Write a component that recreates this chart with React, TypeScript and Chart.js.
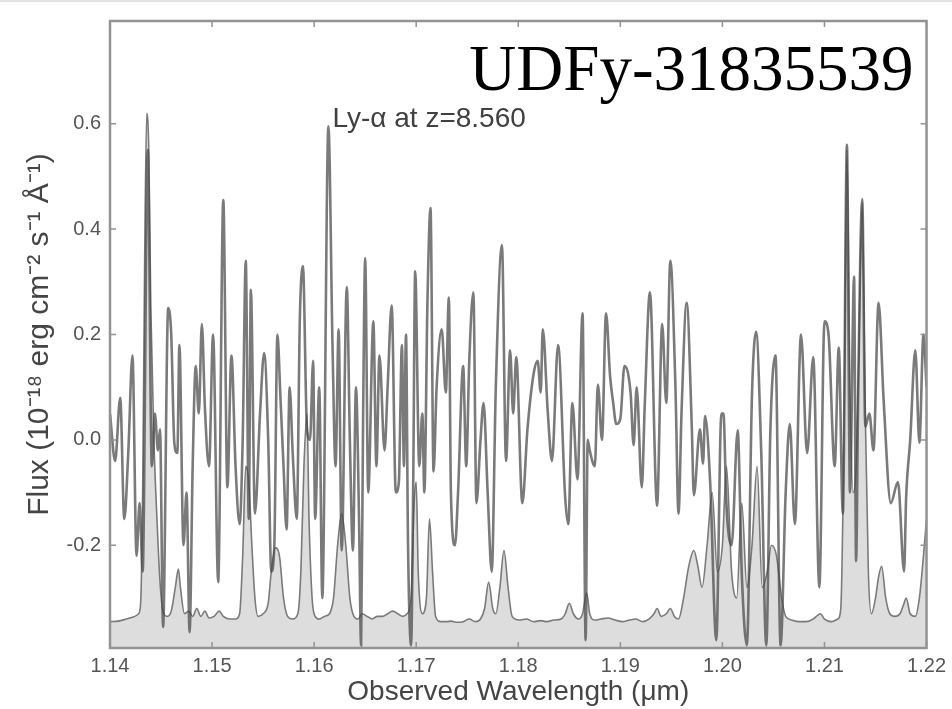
import { useEffect, useRef } from 'react';
import { Chart, registerables } from 'chart.js';

Chart.register(...registerables);

// Object spectrum (observed wavelength in µm, flux in 1e-18 erg/cm2/s/Å)
const objWavelength = [
  1.1400, 1.1405, 1.1410, 1.1414, 1.1418, 1.1422, 1.1426, 1.1429, 1.1432, 1.1437,
  1.1441, 1.1444, 1.1447, 1.1449, 1.1452, 1.1457, 1.1460, 1.1463, 1.1466, 1.1468,
  1.1472, 1.1475, 1.1478, 1.1481, 1.1484, 1.1487, 1.1490, 1.1493, 1.1497, 1.1501,
  1.1506, 1.1511, 1.1515, 1.1519, 1.1523, 1.1527, 1.1530, 1.1533, 1.1536, 1.1538,
  1.1542, 1.1547, 1.1551, 1.1555, 1.1558, 1.1561, 1.1564, 1.1567, 1.1570, 1.1573,
  1.1576, 1.1579, 1.1583, 1.1586, 1.1589, 1.1593, 1.1596, 1.1599, 1.1601, 1.1605,
  1.1608, 1.1614, 1.1618, 1.1621, 1.1624, 1.1627, 1.1632, 1.1635, 1.1638, 1.1641,
  1.1644, 1.1646, 1.1648, 1.1650, 1.1653, 1.1658, 1.1661, 1.1664, 1.1669, 1.1672,
  1.1676, 1.1680, 1.1683, 1.1686, 1.1688, 1.1690, 1.1692, 1.1695, 1.1697, 1.1699,
  1.1703, 1.1706, 1.1708, 1.1711, 1.1714, 1.1717, 1.1720, 1.1725, 1.1729, 1.1732,
  1.1734, 1.1738, 1.1741, 1.1746, 1.1749, 1.1752, 1.1756, 1.1759, 1.1763, 1.1766,
  1.1770, 1.1774, 1.1778, 1.1784, 1.1788, 1.1792, 1.1795, 1.1798, 1.1804, 1.1809,
  1.1815, 1.1819, 1.1822, 1.1824, 1.1829, 1.1833, 1.1839, 1.1846, 1.1849, 1.1853,
  1.1858, 1.1863, 1.1866, 1.1868, 1.1870, 1.1875, 1.1878, 1.1882, 1.1886, 1.1890,
  1.1893, 1.1896, 1.1900, 1.1904, 1.1910, 1.1913, 1.1916, 1.1921, 1.1924, 1.1929,
  1.1936, 1.1941, 1.1945, 1.1949, 1.1954, 1.1957, 1.1960, 1.1965, 1.1970, 1.1972,
  1.1978, 1.1981, 1.1983, 1.1988, 1.1994, 1.1999, 1.2001, 1.2004, 1.2009, 1.2015,
  1.2019, 1.2024, 1.2029, 1.2033, 1.2038, 1.2043, 1.2047, 1.2052, 1.2057, 1.2062,
  1.2066, 1.2071, 1.2077, 1.2083, 1.2089, 1.2095, 1.2100, 1.2104, 1.2110, 1.2114,
  1.2118, 1.2122, 1.2125, 1.2129, 1.2131, 1.2133, 1.2137, 1.2140, 1.2144, 1.2148,
  1.2153, 1.2158, 1.2165, 1.2172, 1.2178, 1.2180, 1.2184, 1.2189, 1.2193, 1.2197,
  1.2200,
];
const objFlux = [
  0.05, -0.04, 0.08, -0.15, -0.02, 0.16, -0.22, -0.12, -0.25, 0.55,
  -0.05, 0.05, -0.02, 0.02, -0.355, 0.25, 0.2, -0.005, -0.025, 0.18,
  -0.2, -0.1, -0.365, -0.05, 0.14, 0.05, 0.22, 0.06, -0.05, 0.2,
  -0.27, 0.455, -0.09, 0.16, -0.05, -0.16, 0.0, 0.34, -0.15, 0.285,
  -0.14, 0.05, 0.165, 0.0, -0.25, -0.2, 0.2, 0.08, -0.05, -0.17,
  0.1, -0.025, -0.15, 0.23, 0.33, 0.02, 0.0, 0.15, -0.15, 0.1,
  -0.3, 0.595, 0.18, -0.05, 0.21, -0.21, 0.29, 0.0, -0.21, 0.1,
  -0.15, -0.39, 0.05, 0.345, -0.1, 0.225, -0.05, 0.16, -0.02, 0.1,
  0.255, -0.1, -0.08, 0.18, -0.05, 0.2, -0.2, -0.39, -0.1, 0.32,
  -0.05, 0.05, -0.1, 0.26, 0.44, -0.06, 0.1, 0.21, 0.09, 0.27,
  -0.1, -0.2, -0.1, 0.14, -0.05, 0.15, 0.28, -0.12, 0.0, 0.07,
  -0.1, -0.25, 0.1, 0.37, -0.04, 0.17, 0.05, 0.157, -0.12, 0.02,
  0.125, 0.15, 0.09, 0.21, 0.05, -0.04, 0.18, -0.11, -0.16, 0.07,
  -0.075, 0.24, -0.38, 0.0, -0.02, -0.05, 0.105, 0.0, 0.24, 0.12,
  0.07, 0.03, 0.04, 0.14, 0.09, -0.01, 0.1, -0.09, 0.07, 0.28,
  -0.125, 0.22, 0.07, 0.34, 0.1, -0.14, 0.055, 0.26, 0.025, -0.105,
  0.02, -0.045, 0.045, -0.08, -0.38, 0.05, 0.05, -0.125, -0.2, 0.018,
  -0.255, -0.39, 0.087, 0.205, -0.02, -0.39, 0.018, 0.16, -0.39, -0.1,
  0.03, -0.16, 0.2, -0.025, 0.157, -0.28, 0.225, 0.2, -0.05, 0.175,
  -0.14, 0.56, -0.1, 0.31, -0.23, 0.087, 0.457, 0.025, 0.05, -0.02,
  0.26, 0.074, -0.12, -0.08, -0.25, -0.11, 0.0, 0.17, -0.005, 0.2,
  0.1,
];

// Sky spectrum (scaled, filled grey)
const skyWavelength = [
  1.1400, 1.1408, 1.1416, 1.1423, 1.1428, 1.1430, 1.1432, 1.1434, 1.1436, 1.1438,
  1.1440, 1.1443, 1.1446, 1.1449, 1.1452, 1.1456, 1.1460, 1.1464, 1.1467, 1.1469,
  1.1473, 1.1477, 1.1481, 1.1485, 1.1489, 1.1493, 1.1497, 1.1502, 1.1507, 1.1511,
  1.1517, 1.1523, 1.1527, 1.1530, 1.1533, 1.1536, 1.1539, 1.1542, 1.1545, 1.1550,
  1.1555, 1.1558, 1.1562, 1.1566, 1.1570, 1.1574, 1.1579, 1.1584, 1.1587, 1.1590,
  1.1593, 1.1595, 1.1598, 1.1601, 1.1605, 1.1610, 1.1615, 1.1619, 1.1623, 1.1627,
  1.1631, 1.1635, 1.1639, 1.1643, 1.1647, 1.1652, 1.1657, 1.1662, 1.1667, 1.1672,
  1.1677, 1.1682, 1.1687, 1.1691, 1.1695, 1.1698, 1.1700, 1.1702, 1.1706, 1.1710,
  1.1713, 1.1716, 1.1719, 1.1724, 1.1730, 1.1734, 1.1740, 1.1746, 1.1752, 1.1758,
  1.1763, 1.1767, 1.1771, 1.1775, 1.1778, 1.1782, 1.1786, 1.1790, 1.1794, 1.1801,
  1.1808, 1.1815, 1.1822, 1.1828, 1.1835, 1.1842, 1.1846, 1.1850, 1.1854, 1.1859,
  1.1863, 1.1867, 1.1870, 1.1875, 1.1881, 1.1888, 1.1895, 1.1902, 1.1909, 1.1915,
  1.1922, 1.1928, 1.1933, 1.1936, 1.1940, 1.1945, 1.1949, 1.1953, 1.1957, 1.1962,
  1.1967, 1.1972, 1.1976, 1.1980, 1.1985, 1.1990, 1.1995, 1.2000, 1.2004, 1.2009,
  1.2014, 1.2019, 1.2024, 1.2029, 1.2034, 1.2039, 1.2044, 1.2048, 1.2053, 1.2058,
  1.2062, 1.2068, 1.2075, 1.2082, 1.2089, 1.2092, 1.2096, 1.2100, 1.2107, 1.2113,
  1.2116, 1.2119, 1.2122, 1.2125, 1.2128, 1.2131, 1.2133, 1.2137, 1.2140, 1.2143,
  1.2146, 1.2150, 1.2153, 1.2156, 1.2160, 1.2164, 1.2169, 1.2174, 1.2178, 1.2180,
  1.2184, 1.2189, 1.2193, 1.2197, 1.2200,
];
const skyFlux = [
  -0.345, -0.344, -0.34, -0.336, -0.33, -0.31, -0.1, 0.35, 0.62, 0.55,
  0.25, 0.0, -0.15, -0.27, -0.325, -0.335, -0.325, -0.28, -0.245, -0.28,
  -0.33, -0.325, -0.335, -0.32, -0.335, -0.325, -0.338, -0.335, -0.325, -0.335,
  -0.34, -0.34, -0.33, -0.22, -0.05, -0.08, -0.2, -0.3, -0.335, -0.33,
  -0.31, -0.25, -0.205, -0.22, -0.3, -0.335, -0.34, -0.33, -0.25, -0.05,
  0.05, -0.15, -0.3, -0.335, -0.34, -0.335, -0.33, -0.3, -0.2, -0.14,
  -0.2, -0.3, -0.335, -0.34, -0.33, -0.335, -0.34, -0.335, -0.335, -0.33,
  -0.325, -0.33, -0.335, -0.33, -0.3, -0.12, -0.08, -0.25, -0.33, -0.3,
  -0.15, -0.25, -0.335, -0.345, -0.345, -0.344, -0.346, -0.345, -0.34, -0.345,
  -0.34, -0.32, -0.27, -0.32, -0.33, -0.28, -0.21, -0.28, -0.335, -0.342,
  -0.34, -0.345, -0.343, -0.345, -0.342, -0.34, -0.33, -0.31, -0.33, -0.34,
  -0.33, -0.29, -0.33, -0.342, -0.34, -0.338, -0.342, -0.345, -0.342, -0.34,
  -0.345, -0.34, -0.33, -0.32, -0.335, -0.33, -0.32, -0.335, -0.34, -0.3,
  -0.24, -0.21, -0.24, -0.28, -0.2, -0.1, -0.25, -0.2, -0.05, -0.25,
  -0.3, -0.12, -0.28, -0.2, -0.05, -0.28, -0.25, -0.2, -0.22, -0.3,
  -0.335, -0.342, -0.345, -0.345, -0.34, -0.335, -0.33, -0.34, -0.345, -0.34,
  -0.32, 0.0, 0.55, 0.1, -0.1, -0.05, 0.1, 0.45, 0.05, -0.25,
  -0.33, -0.3, -0.26, -0.24, -0.3, -0.33, -0.335, -0.33, -0.31, -0.3,
  -0.33, -0.335, -0.3, -0.22, -0.15,
];

const xTickValues = [1.14, 1.15, 1.16, 1.17, 1.18, 1.19, 1.2, 1.21, 1.22];
const yTickValues = [-0.2, 0.0, 0.2, 0.4, 0.6];
const objectName = 'UDFy-31835539';
const lyaLabel = 'Ly-α at z=8.560';
const lyaWavelength = 1.1614;
const lyaFlux = 0.6;

const SANS = '"Liberation Sans", Arial, Helvetica, sans-serif';
const SERIF = '"Liberation Serif", "Times New Roman", serif';

const framePlugin = {
  id: 'frameAndLabels',
  beforeDraw(chart: any) {
    const { ctx, width } = chart;
    ctx.save();
    ctx.fillStyle = '#e2e2e2';
    ctx.fillRect(0, 0, width, 2);
    ctx.restore();
  },
  afterDraw(chart: any) {
    const { ctx, chartArea, scales } = chart;
    const { left, right, top, bottom } = chartArea;
    const xs = scales.x;
    const ys = scales.y;
    ctx.save();
    ctx.strokeStyle = '#939393';
    ctx.lineWidth = 2.5;
    ctx.strokeRect(left, top, right - left, bottom - top);
    ctx.lineWidth = 1.5;
    ctx.beginPath();
    xs.ticks.forEach((t: any) => {
      const px = xs.getPixelForValue(t.value);
      ctx.moveTo(px, bottom);
      ctx.lineTo(px, bottom - 6);
      ctx.moveTo(px, top);
      ctx.lineTo(px, top + 6);
    });
    ys.ticks.forEach((t: any) => {
      const py = ys.getPixelForValue(t.value);
      ctx.moveTo(left, py);
      ctx.lineTo(left + 6, py);
      ctx.moveTo(right, py);
      ctx.lineTo(right - 6, py);
    });
    ctx.stroke();

    // Object name
    ctx.fillStyle = '#000';
    ctx.font = `65px ${SERIF}`;
    ctx.textAlign = 'right';
    ctx.textBaseline = 'alphabetic';
    ctx.fillText(objectName, right - 13, top + 69);

    // Ly-alpha annotation
    ctx.fillStyle = '#404040';
    ctx.font = `28px ${SANS}`;
    ctx.textAlign = 'left';
    ctx.fillText(lyaLabel, xs.getPixelForValue(lyaWavelength) + 4, ys.getPixelForValue(lyaFlux) + 3);
    ctx.restore();
  },
};

export default function App() {
  const ref = useRef<HTMLCanvasElement | null>(null);

  useEffect(() => {
    document.body.style.margin = '0';
    const canvas = ref.current;
    if (!canvas) return;
    const chart = new Chart(canvas, {
      type: 'line',
      data: {
        datasets: [
          {
            label: 'object',
            data: objWavelength.map((w, i) => ({ x: w, y: objFlux[i] })),
            borderColor: 'rgba(70,70,70,0.72)',
            borderWidth: 2.6,
            pointRadius: 0,
            fill: false,
            cubicInterpolationMode: 'monotone',
            order: 0,
          },
          {
            label: 'sky',
            data: skyWavelength.map((w, i) => ({ x: w, y: skyFlux[i] })),
            borderColor: '#7a7a7a',
            backgroundColor: '#dddddd',
            borderWidth: 1.6,
            pointRadius: 0,
            fill: 'start',
            cubicInterpolationMode: 'monotone',
            order: 1,
          },
        ],
      },
      options: {
        responsive: false,
        animation: false,
        devicePixelRatio: 1,
        layout: { padding: { top: 13, right: 24, left: 0, bottom: 0 } },
        plugins: {
          legend: { display: false },
          tooltip: { enabled: false },
        },
        scales: {
          x: {
            type: 'linear',
            min: 1.14,
            max: 1.22,
            afterBuildTicks: (s: any) => {
              s.ticks = xTickValues.map((v) => ({ value: v }));
            },
            afterFit: (s: any) => {
              s.height = 61;
            },
            grid: { display: false, drawTicks: false },
            border: { display: false },
            ticks: {
              autoSkip: false,
              maxRotation: 0,
              padding: 6,
              color: '#555555',
              font: { family: SANS, size: 20 },
              callback: (v: any) => Number(v).toFixed(2),
            },
            title: {
              display: true,
              text: 'Observed Wavelength (μm)',
              color: '#454545',
              font: { family: SANS, size: 28 },
              padding: { top: 0, bottom: 0 },
            },
          },
          y: {
            type: 'linear',
            min: -0.395,
            max: 0.795,
            afterBuildTicks: (s: any) => {
              s.ticks = yTickValues.map((v) => ({ value: v }));
            },
            afterFit: (s: any) => {
              s.width = 110;
            },
            grid: { display: false, drawTicks: false },
            border: { display: false },
            ticks: {
              padding: 9,
              color: '#555555',
              font: { family: SANS, size: 20 },
              callback: (v: any) => Number(v).toFixed(1),
            },
            title: {
              display: true,
              text: 'Flux (10⁻¹⁸ erg cm⁻² s⁻¹ Å⁻¹)',
              color: '#454545',
              font: { family: SANS, size: 30 },
              padding: { top: 22, bottom: 0 },
            },
          },
        },
      },
      plugins: [framePlugin],
    } as any);
    return () => chart.destroy();
  }, []);

  return (
    <div style={{ width: 952, height: 709 }}>
      <canvas ref={ref} width={952} height={709} style={{ display: 'block', width: 952, height: 709 }} />
    </div>
  );
}
